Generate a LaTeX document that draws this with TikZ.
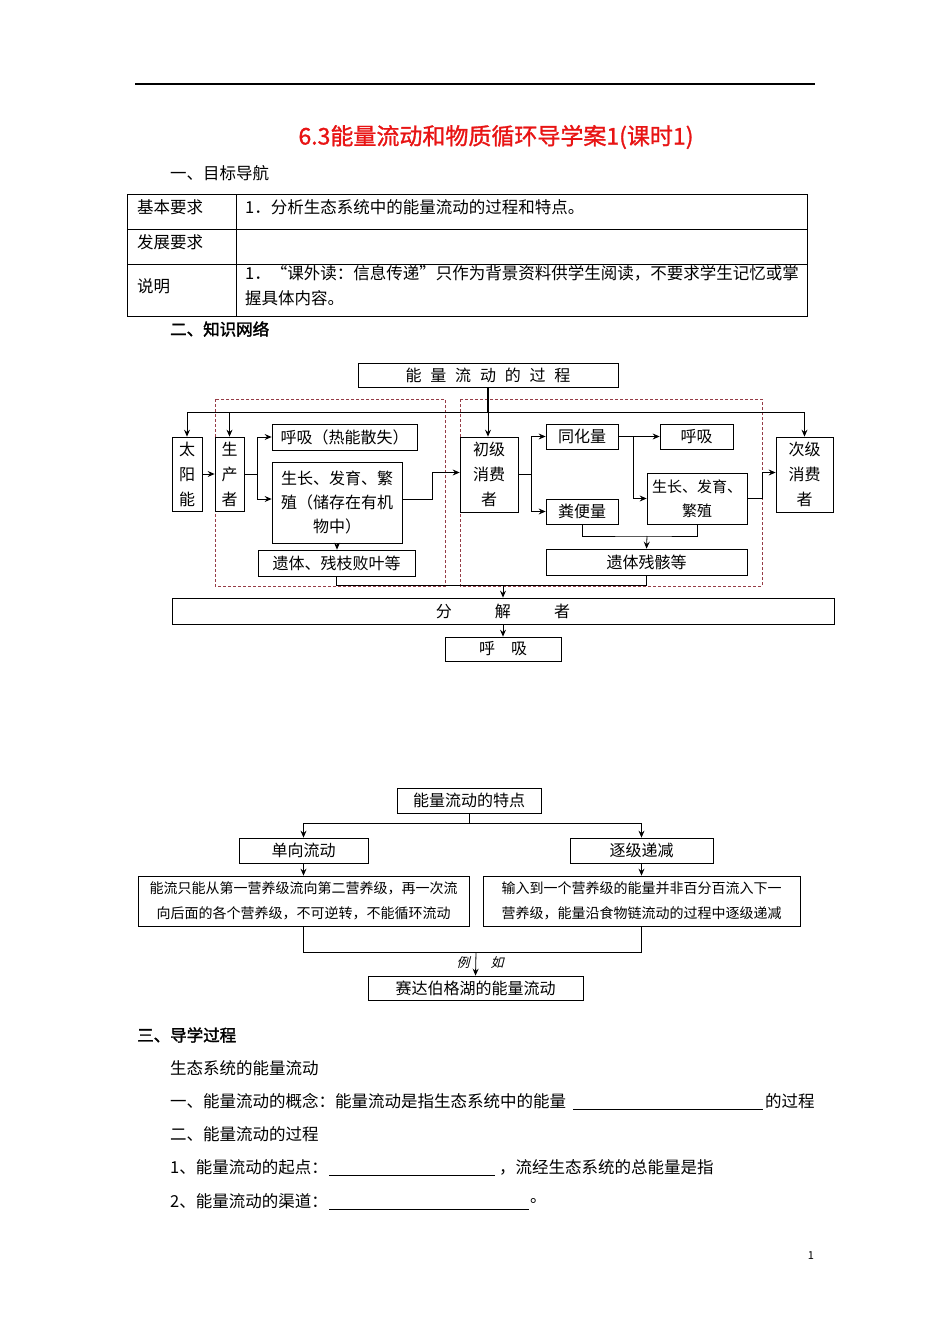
\documentclass[tikz,border=0pt]{standalone}
\usepackage{fontspec}
\setmainfont{Noto Sans CJK SC}
\newfontfamily\cjkb[FakeBold=2]{Noto Sans CJK SC}
\newfontfamily\cjkt[FakeBold=1.2]{Noto Sans CJK SC}
\newfontfamily\cjkit[FakeSlant=0.25]{Noto Sans CJK SC}
\usetikzlibrary{arrows.meta,calc}
\definecolor{titlered}{RGB}{232,20,20}
\definecolor{dashred}{RGB}{150,60,70}
\begin{document}
\begin{tikzpicture}[x=1pt,y=-1pt,
 box/.style={draw,line width=0.8pt,inner sep=0pt,align=center,font=\fontsize{16}{24}\selectfont},
 tbox/.style={box,font=\fontsize{14}{25}\selectfont},
 arr/.style={line width=0.8pt,-{Stealth[length=7pt,width=6pt,inset=2.5pt]}},
 ln/.style={line width=0.8pt},
 txt/.style={anchor=west,inner sep=0pt,font=\fontsize{16.5}{20}\selectfont},
 grp/.style={draw=dashred,line width=0.9pt,dash pattern=on 3pt off 2pt}]
\useasboundingbox (0,0) rectangle (950,1344);
\fill[white] (0,0) rectangle (950,1344);

% header line and title
\draw[line width=1.2pt] (135,84) -- (815,84);
\node[inner sep=0pt,text=titlered,font=\cjkt\fontsize{23}{26}\selectfont] (title) at (496,137) {6.3能量流动和物质循环导学案1(课时1)};
\node[txt] (s1) at (170,173) {一、目标导航};

% table
\draw[line width=0.8pt] (127,194) rectangle (807,316);
\draw[line width=0.8pt] (127,229) -- (807,229) (127,264) -- (807,264) (236,194) -- (236,316);
\node[txt] (r1a) at (137,207) {基本要求};
\node[txt] (r1b) at (245,207) {1．分析生态系统中的能量流动的过程和特点。};
\node[txt] (r2a) at (137,242) {发展要求};
\node[txt] (r3a) at (137,286) {说明};
\node[txt] (r3b) at (245,273) {1．“课外读：信息传递”只作为背景资料供学生阅读，不要求学生记忆或掌};
\node[txt] (r3c) at (245,298) {握具体内容。};
\node[txt,font=\cjkb\fontsize{16.5}{20}\selectfont] (s2) at (170,329) {二、知识网络};

% ===== diagram 1 =====
\draw[grp] (215,399) rectangle (445,586);
\draw[grp] (460,399) rectangle (762,586);

\node[box,minimum width=260pt,minimum height=24pt] (ptitle) at (488,375) {能\hspace{0.55em}量\hspace{0.55em}流\hspace{0.55em}动\hspace{0.55em}的\hspace{0.55em}过\hspace{0.55em}程};
\node[box,minimum width=30pt,minimum height=74pt,font=\fontsize{16}{25}\selectfont] (sun) at (187,474) {太\\阳\\能};
\node[box,minimum width=29pt,minimum height=74pt,font=\fontsize{16}{25}\selectfont] (prod) at (229.5,474) {生\\产\\者};
\node[box,minimum width=145pt,minimum height=26pt] (resp1) at (344.5,437) {呼吸（热能散失）};
\node[box,minimum width=130pt,minimum height=81pt] (grow1) at (337,502.5) {生长、发育、繁\\殖（储存在有机\\物中）};
\node[box,minimum width=157pt,minimum height=26pt] (rem1) at (336.5,563) {遗体、残枝败叶等};
\node[box,minimum width=58pt,minimum height=75pt,font=\fontsize{16}{25}\selectfont] (pc) at (489,474.5) {初级\\消费\\者};
\node[box,minimum width=72pt,minimum height=25pt] (assim) at (582,436.5) {同化量};
\node[box,minimum width=72pt,minimum height=25pt] (feces) at (582,511.5) {粪便量};
\node[box,minimum width=73pt,minimum height=25pt] (resp2) at (696.5,436.5) {呼吸};
\node[box,minimum width=100pt,minimum height=51pt,font=\fontsize{15}{24}\selectfont] (grow2) at (697,498.5) {生长、发育、\\繁殖};
\node[box,minimum width=201pt,minimum height=26pt] (rem2) at (646.5,562) {遗体残骸等};
\node[box,minimum width=57pt,minimum height=75pt,font=\fontsize{16}{25}\selectfont] (sc) at (804.5,474.5) {次级\\消费\\者};
\node[box,minimum width=662pt,minimum height=26pt] (decomp) at (503,611) {分\hspace{2.7em}解\hspace{2.7em}者};
\node[box,minimum width=116pt,minimum height=24pt] (resp3) at (503,649) {呼\hspace{1em}吸};

\coordinate (topy) at (0,412);
\draw[ln] (sun.north |- topy) -- (sc.north |- topy);
\draw[line width=1.4pt] (ptitle.south) -- (ptitle.south |- topy);
\draw[arr] (ptitle.south |- topy) -- (ptitle.south |- pc.north);
\draw[arr] (sun.north |- topy) -- (sun.north);
\draw[arr] (prod.north |- topy) -- (prod.north);
\draw[arr] (sc.north |- topy) -- (sc.north);
\draw[arr] (sun.east) -- (prod.west);
\draw[ln] (prod.east) -- ++(13,0) coordinate (b1);
\draw[arr] (b1) |- (resp1.west);
\draw[arr] (b1) |- ([yshift=3.5pt]grow1.west);
\draw[arr] ([yshift=3.5pt]grow1.east) -- ++(30,0) |- ([yshift=2pt]pc.west);
\draw[arr] (grow1.south) -- (grow1.south |- rem1.north);
\coordinate (j1) at (503,585);
\draw[ln] (rem1.south) |- (j1);
\draw[ln] (rem2.south) |- (j1);
\draw[arr] (j1) -- (decomp.north);
\draw[arr] (decomp.south) -- (resp3.north);
\draw[ln] (pc.east) -- ++(13,0) coordinate (b2);
\draw[arr] (b2) |- (assim.west);
\draw[arr] (b2) |- (feces.west);
\draw[arr] (assim.east) -- (resp2.west);
\draw[arr] ($(assim.east)+(15,0)$) |- (grow2.west);
\draw[arr] (grow2.east) -- ++(15,0) |- ([yshift=2pt]sc.west);
\coordinate (j2) at (647,536);
\draw[ln] (feces.south) |- (j2) -| (grow2.south);
\draw[arr] (j2) -- (rem2.north);

% ===== diagram 2 =====
\node[box,minimum width=144pt,minimum height=25pt] (feat) at (469,800.5) {能量流动的特点};
\node[box,minimum width=129pt,minimum height=25pt] (uni) at (303.5,850.5) {单向流动};
\node[box,minimum width=143pt,minimum height=25pt] (dec) at (641.5,850.5) {逐级递减};
\node[tbox,minimum width=331pt,minimum height=50pt] (t1) at (303.5,901) {能流只能从第一营养级流向第二营养级，再一次流\\向后面的各个营养级，不可逆转，不能循环流动};
\node[tbox,minimum width=317pt,minimum height=50pt] (t2) at (641.5,901) {输入到一个营养级的能量并非百分百流入下一\\营养级，能量沿食物链流动的过程中逐级递减};
\node[box,minimum width=215pt,minimum height=24pt] (ex) at (475.5,988) {赛达伯格湖的能量流动};
\draw[ln] (feat.south) -- ++(0,10) coordinate (j3);
\draw[arr] (j3) -| (uni.north);
\draw[arr] (j3) -| (dec.north);
\draw[arr] (uni.south) -- (t1.north);
\draw[arr] (dec.south) -- (t2.north);
\coordinate (j4) at (476,952);
\draw[ln] (t1.south) |- (j4) -| (t2.south);
\draw[arr] (j4) -- (ex.north);
\node[inner sep=0pt,font=\cjkit\fontsize{13}{14}\selectfont] (li) at (463,963) {例};
\node[inner sep=0pt,font=\cjkit\fontsize{13}{14}\selectfont] (ru) at (497,963) {如};

% ===== text part =====
\node[txt,font=\cjkb\fontsize{16.5}{20}\selectfont] (s3) at (137,1035) {三、导学过程};
\node[txt] (p1) at (170,1068) {生态系统的能量流动};
\node[txt] (p2) at (170,1101) {一、能量流动的概念：能量流动是指生态系统中的能量};
\draw[line width=0.7pt] (573,1109) -- (763,1109);
\node[txt] (p2b) at (765,1101) {的过程};
\node[txt] (p3) at (170,1134) {二、能量流动的过程};
\node[txt] (p4) at (170,1167) {1、能量流动的起点：};
\draw[line width=0.7pt] (329,1175) -- (495,1175);
\node[txt] (p4b) at (499,1167) {，流经生态系统的总能量是指};
\node[txt] (p5) at (170,1201) {2、能量流动的渠道：};
\draw[line width=0.7pt] (329,1209) -- (529,1209);
\node[txt] (p5b) at (530,1201) {。};
\node[inner sep=0pt,font=\fontsize{11}{12}\selectfont] (pg) at (811,1256) {1};
\end{tikzpicture}
\end{document}
